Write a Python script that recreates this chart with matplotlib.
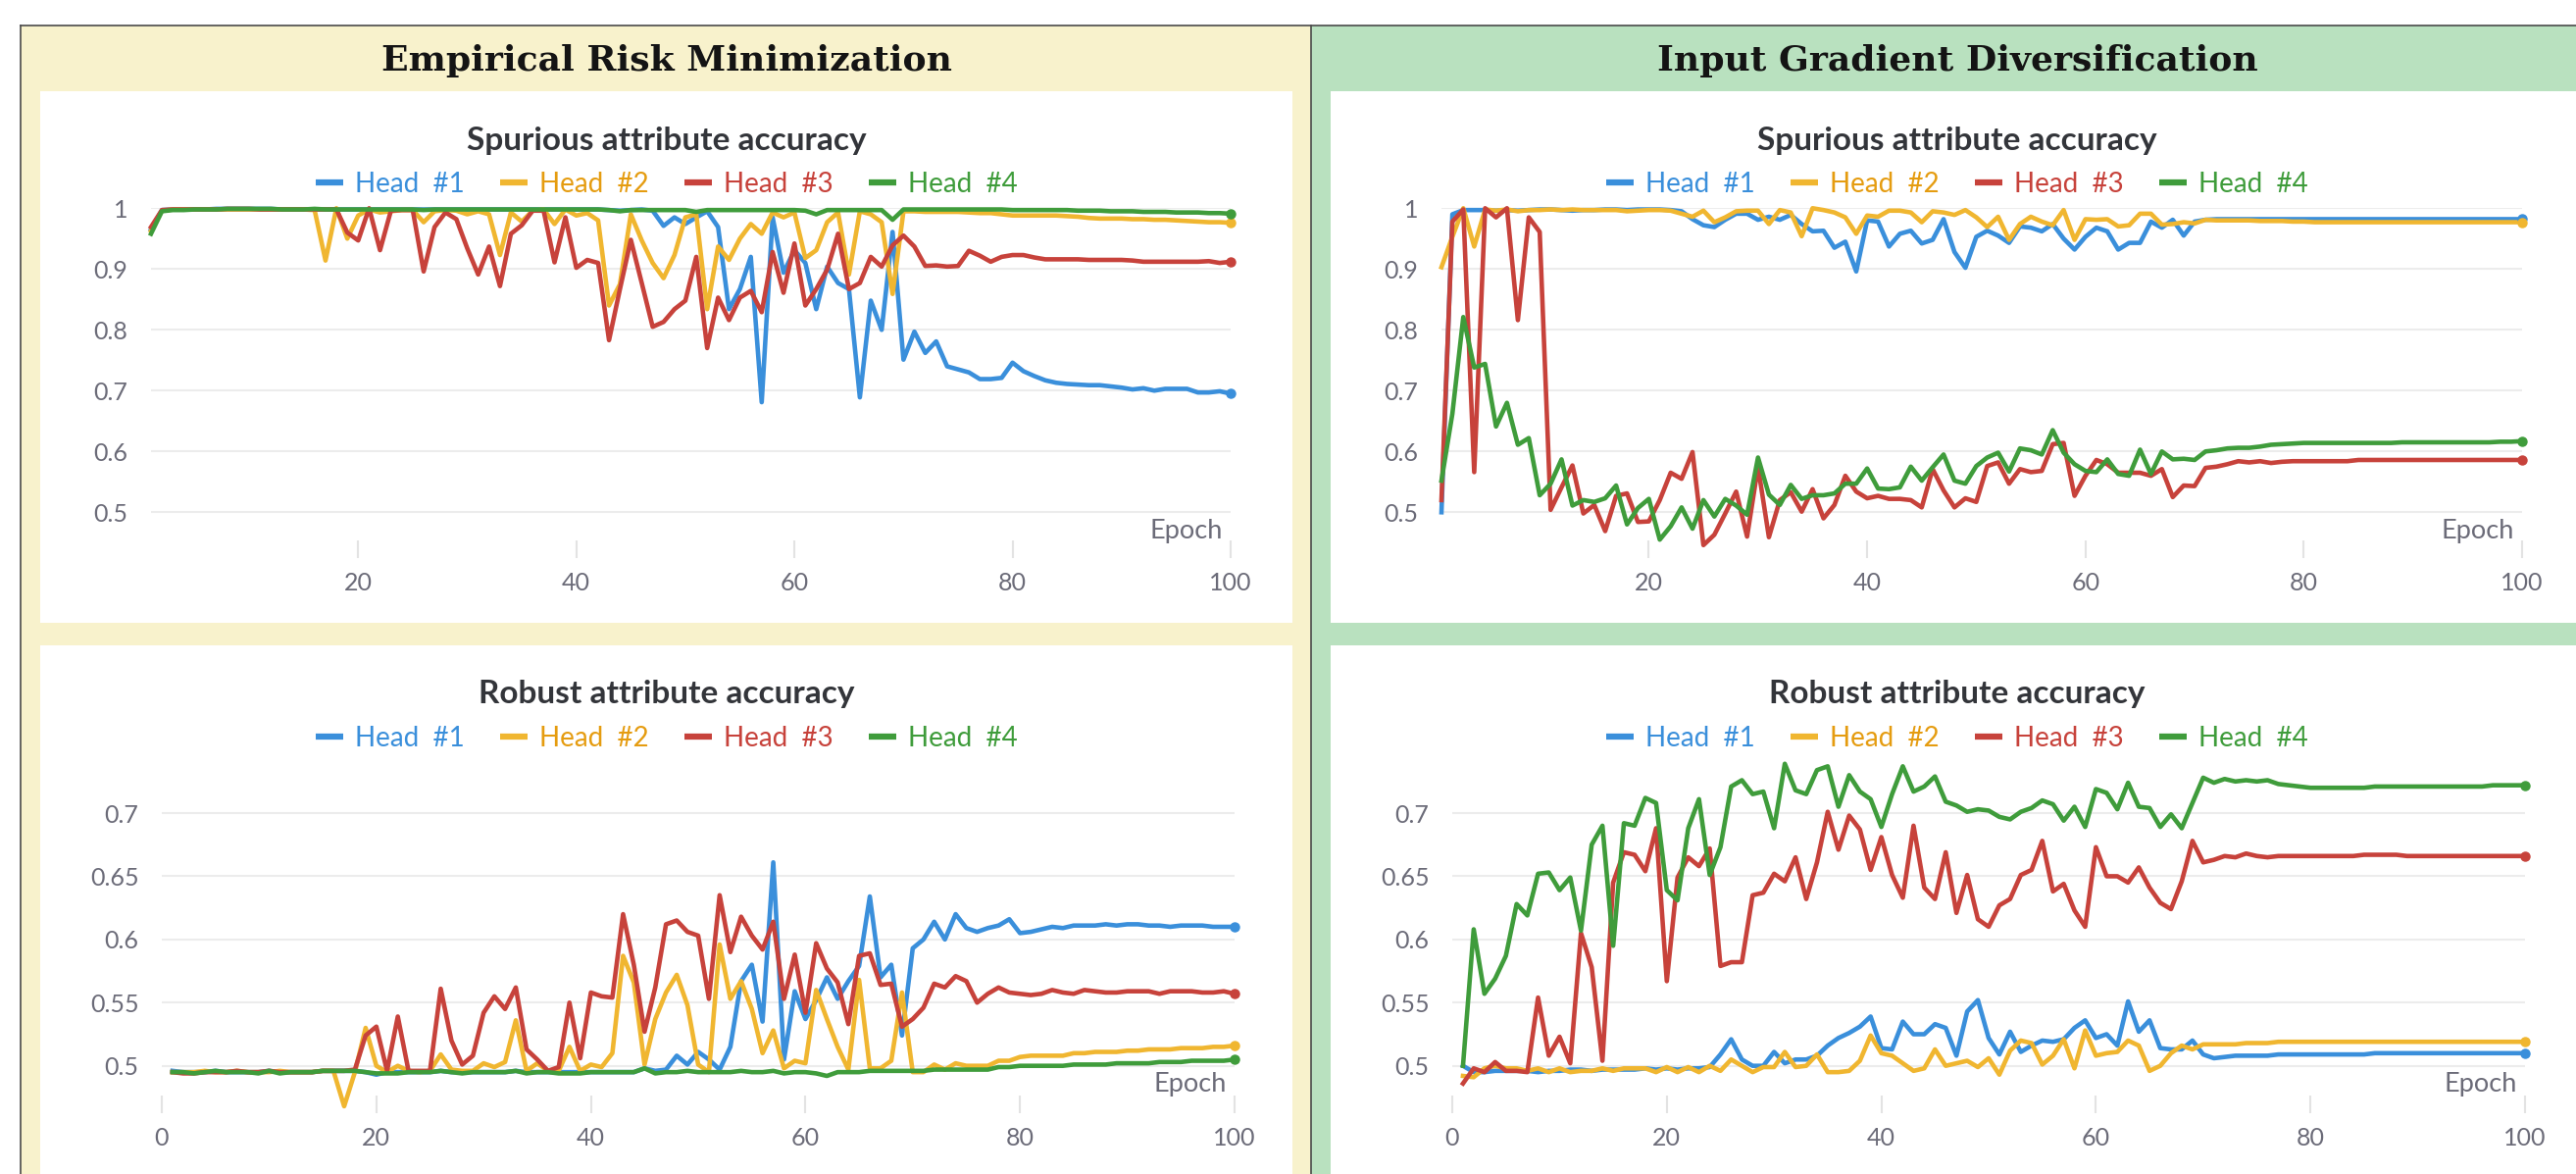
"""
Per-head attribute accuracy, ERM vs Input Gradient Diversification.
Four wandb-style line panels (spurious / robust attribute accuracy).
"""
import matplotlib
matplotlib.use("Agg")
import matplotlib.pyplot as plt
from matplotlib.patches import Rectangle
from matplotlib.lines import Line2D

plt.rcParams["font.family"] = ["Lato", "DejaVu Sans"]

W, H = 2627, 1197
epochs = list(range(1, 101))

head_labels = ["Head  #1", "Head  #2", "Head  #3", "Head  #4"]
line_colors = ["#3a8fdb", "#f0b630", "#c7423b", "#3f9c3b"]
text_colors = ["#3a8fdb", "#e59c10", "#c7423b", "#3f9c3b"]

panel_titles = ["Empirical Risk Minimization", "Input Gradient Diversification"]
chart_titles = ["Spurious attribute accuracy", "Robust attribute accuracy"]

# ----- ERM, spurious attribute accuracy -----
erm_spur_h1 = [0.965, 0.997, 0.998, 0.998, 0.998, 0.998, 0.999, 0.999, 0.999, 0.999,
               0.999, 0.999, 0.998, 0.998, 0.998, 0.998, 0.998, 0.998, 0.998, 0.998,
               0.998, 0.998, 0.998, 0.998, 0.998, 0.998, 0.998, 0.998, 0.998, 0.998,
               0.998, 0.998, 0.998, 0.998, 0.998, 0.998, 0.998, 0.998, 0.998, 0.998,
               0.998, 0.998, 0.997, 0.996, 0.997, 0.998, 0.996, 0.971, 0.985, 0.974,
               0.985, 0.995, 0.969, 0.834, 0.867, 0.920, 0.681, 0.985, 0.894, 0.931,
               0.910, 0.834, 0.904, 0.877, 0.867, 0.689, 0.848, 0.800, 0.961, 0.751,
               0.797, 0.762, 0.781, 0.740, 0.735, 0.730, 0.719, 0.719, 0.721, 0.746,
               0.732, 0.724, 0.717, 0.713, 0.711, 0.710, 0.709, 0.709, 0.707, 0.705,
               0.702, 0.704, 0.700, 0.703, 0.703, 0.703, 0.697, 0.697, 0.699, 0.695]
erm_spur_h2 = [0.963, 0.996, 0.998, 0.998, 0.998, 0.998, 0.998, 0.998, 0.998, 0.998,
               0.998, 0.998, 0.998, 0.998, 0.998, 0.997, 0.914, 1.000, 0.950, 0.988,
               0.998, 0.993, 0.995, 0.997, 0.997, 0.977, 0.995, 0.997, 0.996, 0.990,
               0.995, 0.990, 0.923, 0.993, 0.978, 0.996, 0.998, 0.974, 0.998, 0.988,
               0.992, 0.980, 0.840, 0.875, 0.990, 0.947, 0.910, 0.885, 0.923, 0.985,
               0.990, 0.834, 0.937, 0.915, 0.950, 0.974, 0.958, 0.993, 0.985, 0.993,
               0.918, 0.931, 0.977, 0.993, 0.891, 0.995, 0.990, 0.977, 0.859, 0.995,
               0.995, 0.994, 0.994, 0.994, 0.994, 0.993, 0.992, 0.992, 0.990, 0.988,
               0.988, 0.988, 0.988, 0.988, 0.987, 0.986, 0.984, 0.983, 0.983, 0.983,
               0.982, 0.982, 0.981, 0.981, 0.980, 0.979, 0.978, 0.977, 0.977, 0.976]
erm_spur_h3 = [0.969, 0.997, 0.998, 0.998, 0.998, 0.998, 0.998, 0.999, 0.999, 0.999,
               0.998, 0.998, 0.998, 0.998, 0.998, 0.998, 0.998, 0.998, 0.960, 0.947,
               1.000, 0.931, 0.996, 0.997, 0.997, 0.896, 0.969, 0.993, 0.982, 0.934,
               0.891, 0.937, 0.872, 0.958, 0.972, 0.996, 0.996, 0.911, 0.985, 0.902,
               0.915, 0.910, 0.783, 0.867, 0.948, 0.877, 0.805, 0.813, 0.834, 0.848,
               0.920, 0.770, 0.853, 0.816, 0.853, 0.864, 0.829, 0.928, 0.861, 0.942,
               0.840, 0.867, 0.899, 0.958, 0.867, 0.877, 0.920, 0.904, 0.939, 0.955,
               0.937, 0.905, 0.906, 0.904, 0.905, 0.930, 0.922, 0.912, 0.920, 0.923,
               0.923, 0.919, 0.916, 0.916, 0.916, 0.916, 0.915, 0.915, 0.915, 0.915,
               0.914, 0.912, 0.912, 0.912, 0.912, 0.912, 0.912, 0.913, 0.910, 0.912]
erm_spur_h4 = [0.958, 0.995, 0.997, 0.997, 0.998, 0.998, 0.998, 0.999, 0.999, 0.999,
               0.999, 0.999, 0.998, 0.998, 0.998, 0.999, 0.998, 0.998, 0.998, 0.998,
               0.998, 0.998, 0.998, 0.998, 0.998, 0.997, 0.998, 0.998, 0.998, 0.998,
               0.998, 0.998, 0.998, 0.998, 0.998, 0.998, 0.998, 0.998, 0.998, 0.998,
               0.998, 0.998, 0.997, 0.995, 0.997, 0.997, 0.997, 0.997, 0.997, 0.997,
               0.994, 0.997, 0.997, 0.997, 0.997, 0.997, 0.997, 0.997, 0.997, 0.997,
               0.996, 0.990, 0.997, 0.997, 0.997, 0.997, 0.997, 0.997, 0.981, 0.998,
               0.998, 0.998, 0.998, 0.998, 0.998, 0.998, 0.998, 0.998, 0.998, 0.997,
               0.997, 0.997, 0.997, 0.997, 0.997, 0.996, 0.996, 0.996, 0.995, 0.995,
               0.995, 0.994, 0.994, 0.994, 0.993, 0.993, 0.993, 0.992, 0.992, 0.991]

# ----- IGD, spurious attribute accuracy -----
igd_spur_h1 = [0.500, 0.990, 0.997, 0.997, 0.997, 0.996, 0.997, 0.996, 0.997, 0.998,
               0.998, 0.997, 0.996, 0.997, 0.997, 0.998, 0.998, 0.997, 0.998, 0.998,
               0.998, 0.997, 0.995, 0.982, 0.972, 0.969, 0.981, 0.991, 0.991, 0.981,
               0.986, 0.981, 0.989, 0.974, 0.962, 0.963, 0.935, 0.945, 0.896, 0.980,
               0.978, 0.937, 0.958, 0.963, 0.942, 0.948, 0.982, 0.928, 0.902, 0.953,
               0.963, 0.955, 0.943, 0.970, 0.968, 0.962, 0.974, 0.950, 0.932, 0.953,
               0.968, 0.962, 0.932, 0.943, 0.943, 0.978, 0.968, 0.981, 0.955, 0.978,
               0.981, 0.982, 0.982, 0.982, 0.982, 0.982, 0.982, 0.982, 0.982, 0.982,
               0.982, 0.982, 0.982, 0.982, 0.982, 0.982, 0.982, 0.982, 0.982, 0.982,
               0.982, 0.982, 0.982, 0.982, 0.982, 0.982, 0.982, 0.982, 0.982, 0.982]
igd_spur_h2 = [0.903, 0.953, 1.000, 0.937, 0.998, 0.996, 0.998, 0.995, 0.997, 0.997,
               0.998, 0.997, 0.998, 0.997, 0.997, 0.997, 0.997, 0.995, 0.996, 0.997,
               0.997, 0.996, 0.991, 0.986, 0.996, 0.977, 0.985, 0.995, 0.996, 0.996,
               0.974, 0.997, 0.993, 0.954, 1.000, 0.997, 0.993, 0.985, 0.958, 0.988,
               0.986, 0.996, 0.996, 0.993, 0.977, 0.995, 0.993, 0.989, 0.997, 0.985,
               0.969, 0.986, 0.948, 0.974, 0.986, 0.978, 0.972, 0.997, 0.948, 0.982,
               0.981, 0.982, 0.970, 0.972, 0.991, 0.991, 0.973, 0.974, 0.977, 0.975,
               0.981, 0.980, 0.980, 0.980, 0.980, 0.979, 0.979, 0.979, 0.978, 0.978,
               0.977, 0.977, 0.977, 0.977, 0.977, 0.977, 0.977, 0.977, 0.977, 0.977,
               0.977, 0.977, 0.977, 0.977, 0.977, 0.977, 0.977, 0.977, 0.977, 0.977]
igd_spur_h3 = [0.520, 0.978, 0.998, 0.566, 1.000, 0.985, 1.000, 0.816, 0.985, 0.961,
               0.504, 0.541, 0.577, 0.498, 0.512, 0.469, 0.527, 0.531, 0.484, 0.485,
               0.520, 0.565, 0.555, 0.599, 0.446, 0.463, 0.498, 0.534, 0.460, 0.575,
               0.459, 0.520, 0.533, 0.501, 0.538, 0.490, 0.512, 0.560, 0.534, 0.523,
               0.527, 0.522, 0.522, 0.520, 0.508, 0.571, 0.536, 0.508, 0.523, 0.517,
               0.576, 0.582, 0.547, 0.571, 0.566, 0.568, 0.612, 0.614, 0.527, 0.560,
               0.586, 0.579, 0.565, 0.565, 0.565, 0.560, 0.571, 0.525, 0.544, 0.543,
               0.573, 0.575, 0.579, 0.584, 0.582, 0.584, 0.581, 0.583, 0.584, 0.584,
               0.584, 0.584, 0.584, 0.584, 0.586, 0.586, 0.586, 0.586, 0.586, 0.586,
               0.586, 0.586, 0.586, 0.586, 0.586, 0.586, 0.586, 0.586, 0.586, 0.586]
igd_spur_h4 = [0.552, 0.662, 0.821, 0.738, 0.744, 0.641, 0.680, 0.611, 0.622, 0.528,
               0.547, 0.587, 0.511, 0.520, 0.517, 0.523, 0.544, 0.480, 0.507, 0.522,
               0.455, 0.477, 0.508, 0.473, 0.520, 0.493, 0.522, 0.511, 0.496, 0.590,
               0.529, 0.512, 0.545, 0.522, 0.528, 0.528, 0.531, 0.547, 0.547, 0.572,
               0.539, 0.538, 0.541, 0.575, 0.552, 0.574, 0.595, 0.552, 0.547, 0.576,
               0.590, 0.598, 0.567, 0.605, 0.602, 0.595, 0.635, 0.598, 0.579, 0.568,
               0.566, 0.587, 0.563, 0.560, 0.603, 0.563, 0.600, 0.587, 0.588, 0.586,
               0.600, 0.602, 0.605, 0.606, 0.606, 0.608, 0.611, 0.612, 0.613, 0.614,
               0.614, 0.614, 0.614, 0.614, 0.614, 0.614, 0.614, 0.614, 0.615, 0.615,
               0.615, 0.615, 0.615, 0.615, 0.615, 0.615, 0.615, 0.616, 0.616, 0.617]

# ----- ERM, robust attribute accuracy -----
erm_rob_h1 = [0.496, 0.495, 0.495, 0.495, 0.496, 0.495, 0.495, 0.495, 0.495, 0.496,
              0.495, 0.495, 0.495, 0.495, 0.496, 0.496, 0.496, 0.496, 0.495, 0.493,
              0.495, 0.495, 0.495, 0.495, 0.495, 0.496, 0.495, 0.495, 0.495, 0.495,
              0.495, 0.495, 0.496, 0.495, 0.495, 0.495, 0.495, 0.495, 0.495, 0.495,
              0.495, 0.495, 0.495, 0.495, 0.498, 0.496, 0.497, 0.508, 0.501, 0.511,
              0.505, 0.497, 0.515, 0.567, 0.580, 0.535, 0.661, 0.505, 0.559, 0.537,
              0.552, 0.570, 0.553, 0.567, 0.579, 0.634, 0.570, 0.580, 0.524, 0.593,
              0.600, 0.614, 0.600, 0.620, 0.609, 0.606, 0.609, 0.611, 0.616, 0.605,
              0.606, 0.608, 0.610, 0.609, 0.611, 0.611, 0.611, 0.612, 0.611, 0.612,
              0.612, 0.611, 0.611, 0.610, 0.611, 0.611, 0.611, 0.610, 0.610, 0.610]
erm_rob_h2 = [0.495, 0.495, 0.495, 0.496, 0.495, 0.495, 0.496, 0.495, 0.495, 0.495,
              0.496, 0.495, 0.495, 0.495, 0.496, 0.496, 0.468, 0.495, 0.530, 0.500,
              0.495, 0.500, 0.496, 0.495, 0.496, 0.509, 0.497, 0.496, 0.496, 0.502,
              0.499, 0.503, 0.536, 0.496, 0.502, 0.496, 0.496, 0.515, 0.496, 0.501,
              0.499, 0.510, 0.587, 0.566, 0.501, 0.537, 0.558, 0.572, 0.548, 0.501,
              0.495, 0.596, 0.553, 0.567, 0.545, 0.510, 0.528, 0.498, 0.504, 0.502,
              0.560, 0.537, 0.515, 0.497, 0.568, 0.498, 0.498, 0.504, 0.558, 0.495,
              0.495, 0.501, 0.497, 0.502, 0.500, 0.500, 0.500, 0.504, 0.504, 0.507,
              0.508, 0.508, 0.508, 0.508, 0.510, 0.510, 0.511, 0.511, 0.511, 0.512,
              0.512, 0.513, 0.513, 0.513, 0.514, 0.514, 0.514, 0.515, 0.515, 0.516]
erm_rob_h3 = [0.495, 0.494, 0.494, 0.495, 0.495, 0.495, 0.496, 0.495, 0.495, 0.496,
              0.495, 0.495, 0.495, 0.495, 0.496, 0.496, 0.496, 0.497, 0.524, 0.531,
              0.496, 0.539, 0.496, 0.496, 0.496, 0.561, 0.520, 0.501, 0.508, 0.542,
              0.555, 0.545, 0.562, 0.513, 0.505, 0.496, 0.499, 0.550, 0.506, 0.558,
              0.555, 0.554, 0.620, 0.580, 0.527, 0.562, 0.612, 0.615, 0.606, 0.603,
              0.553, 0.635, 0.590, 0.618, 0.603, 0.592, 0.614, 0.553, 0.588, 0.542,
              0.597, 0.577, 0.566, 0.533, 0.587, 0.589, 0.564, 0.565, 0.531, 0.537,
              0.546, 0.565, 0.562, 0.571, 0.567, 0.550, 0.557, 0.562, 0.558, 0.557,
              0.556, 0.557, 0.560, 0.558, 0.557, 0.560, 0.559, 0.558, 0.558, 0.559,
              0.559, 0.559, 0.557, 0.559, 0.559, 0.559, 0.558, 0.558, 0.559, 0.557]
erm_rob_h4 = [0.495, 0.495, 0.494, 0.495, 0.496, 0.495, 0.495, 0.495, 0.494, 0.496,
              0.494, 0.495, 0.495, 0.495, 0.496, 0.496, 0.496, 0.496, 0.495, 0.494,
              0.494, 0.494, 0.495, 0.495, 0.495, 0.496, 0.495, 0.494, 0.495, 0.495,
              0.495, 0.495, 0.496, 0.494, 0.495, 0.495, 0.494, 0.494, 0.494, 0.495,
              0.495, 0.495, 0.495, 0.495, 0.498, 0.494, 0.495, 0.495, 0.496, 0.495,
              0.495, 0.495, 0.495, 0.496, 0.495, 0.495, 0.496, 0.494, 0.495, 0.495,
              0.494, 0.492, 0.495, 0.495, 0.495, 0.496, 0.496, 0.496, 0.496, 0.496,
              0.496, 0.497, 0.497, 0.497, 0.497, 0.497, 0.497, 0.499, 0.499, 0.500,
              0.500, 0.500, 0.500, 0.500, 0.501, 0.501, 0.501, 0.501, 0.502, 0.502,
              0.502, 0.502, 0.503, 0.503, 0.503, 0.504, 0.504, 0.504, 0.504, 0.505]

# ----- IGD, robust attribute accuracy -----
igd_rob_h1 = [0.500, 0.495, 0.495, 0.496, 0.496, 0.496, 0.496, 0.495, 0.496, 0.496,
              0.497, 0.497, 0.496, 0.497, 0.497, 0.497, 0.497, 0.498, 0.497, 0.498,
              0.497, 0.498, 0.498, 0.499, 0.509, 0.521, 0.505, 0.500, 0.500, 0.511,
              0.502, 0.505, 0.505, 0.508, 0.516, 0.522, 0.526, 0.531, 0.539, 0.514,
              0.513, 0.535, 0.525, 0.525, 0.533, 0.530, 0.508, 0.543, 0.552, 0.522,
              0.509, 0.527, 0.511, 0.516, 0.520, 0.519, 0.521, 0.530, 0.536, 0.522,
              0.525, 0.516, 0.551, 0.527, 0.536, 0.514, 0.513, 0.513, 0.520, 0.509,
              0.506, 0.507, 0.508, 0.508, 0.508, 0.508, 0.509, 0.509, 0.509, 0.509,
              0.509, 0.509, 0.509, 0.509, 0.509, 0.510, 0.510, 0.510, 0.510, 0.510,
              0.510, 0.510, 0.510, 0.510, 0.510, 0.510, 0.510, 0.510, 0.510, 0.510]
igd_rob_h2 = [0.492, 0.491, 0.498, 0.500, 0.498, 0.498, 0.496, 0.498, 0.495, 0.498,
              0.495, 0.496, 0.496, 0.498, 0.496, 0.498, 0.498, 0.498, 0.495, 0.499,
              0.495, 0.499, 0.495, 0.500, 0.496, 0.505, 0.500, 0.495, 0.499, 0.499,
              0.511, 0.499, 0.500, 0.509, 0.495, 0.495, 0.496, 0.504, 0.524, 0.510,
              0.508, 0.502, 0.496, 0.498, 0.513, 0.500, 0.502, 0.504, 0.499, 0.506,
              0.493, 0.512, 0.520, 0.518, 0.501, 0.508, 0.521, 0.498, 0.528, 0.508,
              0.510, 0.511, 0.520, 0.516, 0.496, 0.500, 0.510, 0.516, 0.513, 0.517,
              0.517, 0.517, 0.517, 0.518, 0.518, 0.518, 0.519, 0.519, 0.519, 0.519,
              0.519, 0.519, 0.519, 0.519, 0.519, 0.519, 0.519, 0.519, 0.519, 0.519,
              0.519, 0.519, 0.519, 0.519, 0.519, 0.519, 0.519, 0.519, 0.519, 0.519]
igd_rob_h3 = [0.486, 0.498, 0.495, 0.503, 0.496, 0.496, 0.495, 0.554, 0.508, 0.523,
              0.502, 0.605, 0.578, 0.504, 0.645, 0.669, 0.667, 0.654, 0.688, 0.567,
              0.649, 0.665, 0.658, 0.672, 0.579, 0.582, 0.582, 0.635, 0.637, 0.652,
              0.646, 0.665, 0.632, 0.661, 0.701, 0.671, 0.698, 0.687, 0.655, 0.681,
              0.651, 0.633, 0.690, 0.641, 0.632, 0.669, 0.621, 0.651, 0.616, 0.610,
              0.627, 0.632, 0.651, 0.655, 0.678, 0.638, 0.644, 0.623, 0.610, 0.673,
              0.650, 0.650, 0.645, 0.657, 0.641, 0.629, 0.624, 0.646, 0.678, 0.661,
              0.663, 0.666, 0.665, 0.668, 0.666, 0.665, 0.666, 0.666, 0.666, 0.666,
              0.666, 0.666, 0.666, 0.666, 0.667, 0.667, 0.667, 0.667, 0.666, 0.666,
              0.666, 0.666, 0.666, 0.666, 0.666, 0.666, 0.666, 0.666, 0.666, 0.666]
igd_rob_h4 = [0.500, 0.608, 0.557, 0.569, 0.587, 0.628, 0.619, 0.652, 0.653, 0.639,
              0.649, 0.607, 0.675, 0.690, 0.595, 0.692, 0.690, 0.712, 0.708, 0.639,
              0.631, 0.688, 0.711, 0.651, 0.673, 0.721, 0.726, 0.715, 0.717, 0.688,
              0.739, 0.718, 0.715, 0.734, 0.737, 0.705, 0.730, 0.717, 0.711, 0.689,
              0.715, 0.737, 0.717, 0.721, 0.729, 0.709, 0.706, 0.701, 0.703, 0.702,
              0.697, 0.695, 0.701, 0.704, 0.710, 0.707, 0.694, 0.705, 0.689, 0.719,
              0.716, 0.703, 0.724, 0.705, 0.704, 0.689, 0.699, 0.688, 0.708, 0.728,
              0.724, 0.727, 0.725, 0.726, 0.725, 0.726, 0.723, 0.722, 0.721, 0.720,
              0.720, 0.720, 0.720, 0.720, 0.720, 0.721, 0.721, 0.721, 0.721, 0.721,
              0.721, 0.721, 0.721, 0.721, 0.721, 0.721, 0.722, 0.722, 0.722, 0.722]

spur_ticks = [0.5, 0.6, 0.7, 0.8, 0.9, 1.0]
spur_ticklabels = ["0.5", "0.6", "0.7", "0.8", "0.9", "1"]
rob_ticks = [0.5, 0.55, 0.6, 0.65, 0.7]
rob_ticklabels = ["0.5", "0.55", "0.6", "0.65", "0.7"]

fig = plt.figure(figsize=(W / 100, H / 100), dpi=100)
fig.patch.set_facecolor("white")


def fx(px):
    return px / W


def fy(py):
    return 1 - py / H


def box(x0, y0, x1, y1, color, z=-5):
    fig.add_artist(Rectangle((fx(x0), fy(y1)), fx(x1) - fx(x0), fy(y0) - fy(y1),
                             transform=fig.transFigure, facecolor=color,
                             edgecolor="none", zorder=z))


def hline(x0, x1, y):
    fig.add_artist(Line2D([fx(x0), fx(x1)], [fy(y), fy(y)], transform=fig.transFigure,
                          color="#4a4a4a", lw=1.2, zorder=-3))


def vline(x, y0, y1):
    fig.add_artist(Line2D([fx(x), fx(x)], [fy(y0), fy(y1)], transform=fig.transFigure,
                          color="#4a4a4a", lw=1.2, zorder=-3))


# ----- panel backgrounds -----
box(21, 26, 1337, H, "#f8f2cc")
box(1337, 26, W, H, "#b9e1bf")
for x0, x1 in [(41, 1318), (1357, W)]:
    box(x0, 93, x1, 635, "white", z=-4)
    box(x0, 658, x1, H, "white", z=-4)
hline(21, W, 26)
vline(21, 26, H)
vline(1337, 26, H)

fig.text(fx(680), fy(62), panel_titles[0], ha="center", va="center",
         family="DejaVu Serif", fontsize=26, fontweight="bold", color="#141414")
fig.text(fx(1996), fy(62), panel_titles[1], ha="center", va="center",
         family="DejaVu Serif", fontsize=26, fontweight="bold", color="#141414")

# (column centre, axes left/right px, series, title row offset, spurious?)
panels = [
    (680, 154, 1255, [erm_spur_h1, erm_spur_h2, erm_spur_h3, erm_spur_h4], 0, 1),
    (1996, 1470, 2572, [igd_spur_h1, igd_spur_h2, igd_spur_h3, igd_spur_h4], 0, 1),
    (680, 165, 1259, [erm_rob_h1, erm_rob_h2, erm_rob_h3, erm_rob_h4], 565, 0),
    (1996, 1481, 2575, [igd_rob_h1, igd_rob_h2, igd_rob_h3, igd_rob_h4], 565, 0),
]

for cx, left, right, series, dy, is_spur in panels:
    if is_spur:
        top_px, bot_px = 212.3, 551.0
        ylo, yhi = 0.5 - (bot_px - 522.3) / 620.0, 1.0
        ticks, labels = spur_ticks, spur_ticklabels
        xlo, xticks = 1, [20, 40, 60, 80, 100]
    else:
        top_px, bot_px = 777.0, 1117.0
        ylo = 0.5 - (bot_px - 1086.7) / 1288.5
        yhi = 0.7 + (829.0 - top_px) / 1288.5
        ticks, labels = rob_ticks, rob_ticklabels
        xlo, xticks = 0, [0, 20, 40, 60, 80, 100]

    ax = fig.add_axes([fx(left), fy(bot_px), fx(right) - fx(left), fy(top_px) - fy(bot_px)])
    ax.set_facecolor("none")
    for s in ax.spines.values():
        s.set_visible(False)
    ax.set_xlim(xlo, 100)
    ax.set_ylim(ylo, yhi)
    ax.set_yticks(ticks, labels)
    ax.set_xticks(xticks)
    ax.grid(axis="y", color="#ececec", lw=1.5)
    ax.set_axisbelow(True)
    ax.tick_params(axis="y", length=0, pad=17, labelsize=18, labelcolor="#6b6b78")
    ax.tick_params(axis="x", length=13, width=1.5, color="#e3e3e3", pad=10,
                   labelsize=18, labelcolor="#6b6b78")

    for vals, c in zip(series, line_colors):
        ax.plot(epochs, vals, color=c, lw=3.3, clip_on=False, zorder=3)
        ax.plot(epochs[-1], vals[-1], "o", ms=6.5, color=c, clip_on=False, zorder=4)

    fig.text(fx(right - 8), fy(541 + dy), "Epoch", ha="right", va="center",
             fontsize=19.5, color="#6b6b78")
    fig.text(fx(cx), fy(143 + dy), chart_titles[0] if is_spur else chart_titles[1],
             ha="center", va="center", fontsize=24, fontweight="bold", color="#33353a")

    handles = [Line2D([], [], color=c, lw=4.5, solid_capstyle="butt") for c in line_colors]
    fig.legend(handles, head_labels, loc="center", bbox_to_anchor=(fx(cx), fy(188 + dy)),
               ncol=4, frameon=False, fontsize=20, handlelength=1.0, handletextpad=0.45,
               columnspacing=1.3, labelcolor=text_colors, borderpad=0, borderaxespad=0)

fig.savefig("out.png", dpi=100)
